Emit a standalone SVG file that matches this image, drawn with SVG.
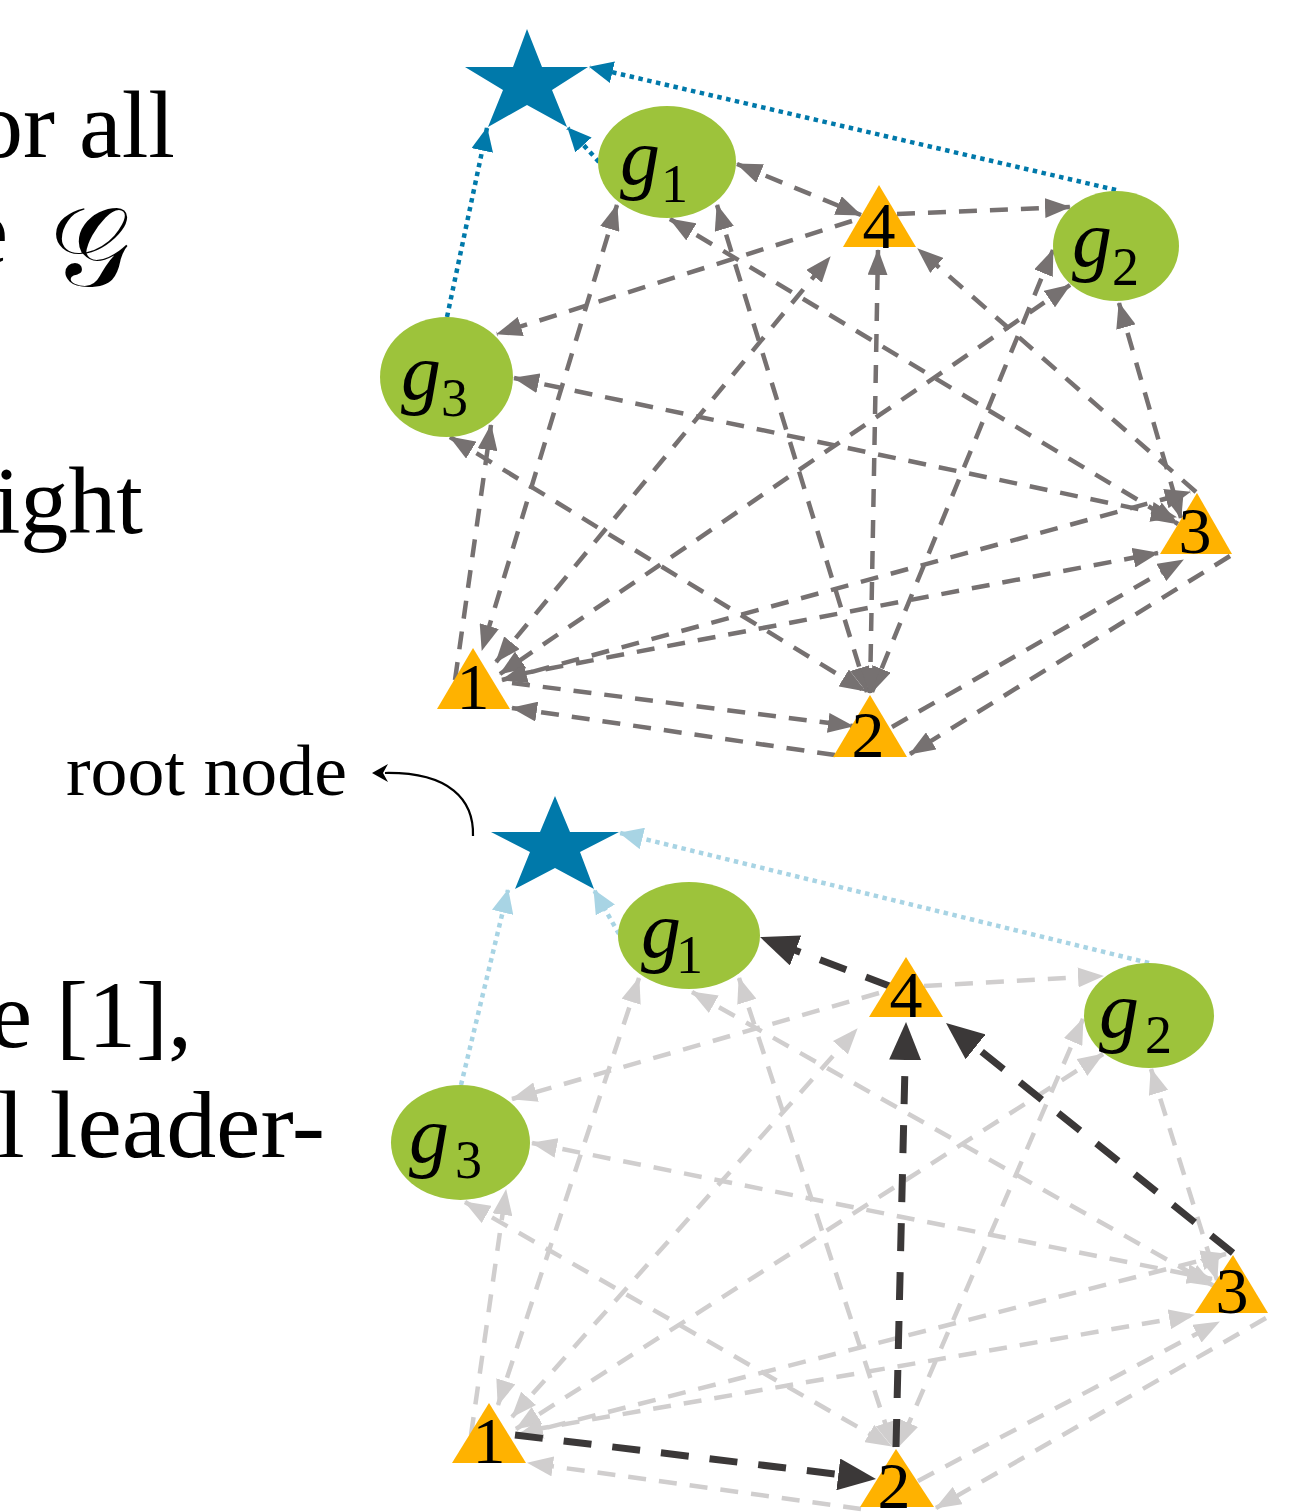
<svg xmlns="http://www.w3.org/2000/svg" width="1300" height="1512" viewBox="0 0 1300 1512">
  <defs>
    <style>
      .e{fill:none;stroke:#767171;stroke-width:4.5;stroke-dasharray:18 13;marker-end:url(#mg)}
      .e.two{marker-start:url(#mg)}
      .l{fill:none;stroke:#D0CECE;stroke-width:4.5;stroke-dasharray:18 13;marker-end:url(#ml)}
      .l.two{marker-start:url(#ml)}
      .d{fill:none;stroke:#3B3838;stroke-width:7;stroke-dasharray:28 21;marker-end:url(#md)}
      .b{fill:none;stroke:#0079AA;stroke-width:4.5;stroke-dasharray:4.5 4.5;marker-end:url(#mb)}
      .bl{fill:none;stroke:#A8D4E4;stroke-width:4.5;stroke-dasharray:4.5 4.5;marker-end:url(#mbl)}
      .goal{fill:#9DC33B}
      .agent{fill:#FFB200}
      .star{fill:#0079AA}
      .num{font-family:"Liberation Serif",serif;font-size:66px;fill:#000;text-anchor:middle}
      .gv{font-family:"Liberation Serif",serif;font-style:italic;font-size:80px;fill:#000}
      .gs{font-family:"Liberation Serif",serif;font-size:54px;fill:#000}
      .txt{font-family:"Liberation Serif",serif;font-size:96px;fill:#000}
    </style>
    <marker id="mg" viewBox="0 0 26 20" refX="25" refY="10" markerWidth="26" markerHeight="20" markerUnits="userSpaceOnUse" orient="auto-start-reverse"><path d="M0,0 L26,10 L0,20 z" fill="#767171"/></marker>
    <marker id="ml" viewBox="0 0 26 20" refX="25" refY="10" markerWidth="26" markerHeight="20" markerUnits="userSpaceOnUse" orient="auto-start-reverse"><path d="M0,0 L26,10 L0,20 z" fill="#D0CECE"/></marker>
    <marker id="md" viewBox="0 0 38 32" refX="28" refY="16" markerWidth="38" markerHeight="32" markerUnits="userSpaceOnUse" orient="auto"><path d="M0,0 L38,16 L0,32 z" fill="#3B3838"/></marker>
    <marker id="mb" viewBox="0 0 24 22" refX="23" refY="11" markerWidth="24" markerHeight="22" markerUnits="userSpaceOnUse" orient="auto"><path d="M0,0 L24,11 L0,22 z" fill="#0079AA"/></marker>
    <marker id="mbl" viewBox="0 0 24 22" refX="23" refY="11" markerWidth="24" markerHeight="22" markerUnits="userSpaceOnUse" orient="auto"><path d="M0,0 L24,11 L0,22 z" fill="#A8D4E4"/></marker>
  </defs>

  <rect width="1300" height="1512" fill="#fff"/>

  <!-- side text, cut at the left edge -->
  <g id="side-text">
    <text class="txt" x="175" y="157" text-anchor="end">or all</text>
    <text class="txt" x="8" y="263" text-anchor="end">e</text>
    <text x="50" y="286" font-family="DejaVu Serif,'DejaVu Sans','Noto Sans',serif" font-size="112">𝒢</text>
    <text class="txt" x="143" y="533" text-anchor="end" font-size="86">eight</text>
    <text class="txt" x="192" y="1047" text-anchor="end">e [1],</text>
    <text class="txt" x="-3" y="1157" font-size="98" textLength="328" lengthAdjust="spacingAndGlyphs">l leader-</text>
  </g>

  <!-- root node callout -->
  <g id="root-label">
    <text x="66" y="795" font-family="'Liberation Serif',serif" font-size="72" textLength="281" lengthAdjust="spacingAndGlyphs">root node</text>
    <path d="M473,836 C474,800 450,772 385,773" fill="none" stroke="#000" stroke-width="2.2"/>
    <polygon points="372,773 388,764 383,773 388,782" fill="#000"/>
  </g>

  <!-- connectors -->
  <g id="connectors">
    <!-- full graph -->
    <path class="e two" d="M737,164 L861,215"/>
    <path class="e" d="M897,214 L1070,207"/>
    <path class="e" d="M852,221 L497,334"/>
    <path class="e two" d="M617,205 L482,650"/>
    <path class="e two" d="M717,205 L867,692"/>
    <path class="e two" d="M670,219 L1178,524"/>
    <path class="e two" d="M1070,285 L500,674"/>
    <path class="e two" d="M1053,250 L872,692"/>
    <path class="e two" d="M1119,303 L1181,518"/>
    <path class="e" d="M455,680 L491,425"/>
    <path class="e two" d="M450,437 L865,691"/>
    <path class="e two" d="M514,378 L1176,517"/>
    <path class="e" d="M512,683 L853,726"/>
    <path class="e" d="M835,755 L512,708"/>
    <path class="e" d="M892,727 L1183,560"/>
    <path class="e" d="M1230,556 L910,754"/>
    <path class="e" d="M515,675 L1158,553"/>
    <path class="e two" d="M502,680 L1190,492"/>
    <path class="e two" d="M496,662 L830,257"/>
    <path class="e two" d="M870,693 L878,250"/>
    <path class="e" d="M1196,492 L918,249"/>
    <path class="b" d="M447,317 L487,128"/>
    <path class="b" d="M599,162 L568,128"/>
    <path class="b" d="M1116,190 L590,67"/>

    <!-- spanning tree view: faded graph -->
    <path class="l" d="M924,986 L1103,976"/>
    <path class="l" d="M879,993 L512,1099"/>
    <path class="l two" d="M639,978 L498,1405"/>
    <path class="l two" d="M739,978 L893,1447"/>
    <path class="l two" d="M692,992 L1214,1286"/>
    <path class="l two" d="M1103,1054 L516,1429"/>
    <path class="l two" d="M1083,1019 L899,1446"/>
    <path class="l" d="M471,1435 L506,1190"/>
    <path class="l two" d="M1151,1069 L1217,1280"/>
    <path class="l two" d="M465,1202 L891,1446"/>
    <path class="l two" d="M532,1143 L1212,1279"/>
    <path class="l" d="M861,1509 L528,1463"/>
    <path class="l" d="M918,1481 L1219,1322"/>
    <path class="l" d="M1266,1318 L936,1508"/>
    <path class="l" d="M531,1430 L1194,1315"/>
    <path class="l two" d="M518,1435 L1226,1254"/>
    <path class="l two" d="M512,1417 L857,1029"/>
    <path class="bl" d="M461,1085 L508,890"/>
    <path class="bl" d="M619,934 L594,890"/>
    <path class="bl" d="M1149,963 L620,833"/>
    <!-- highlighted tree edges -->
    <path class="d" d="M892,987 L769.4,940.6"/>
    <path class="d" d="M515,1435 L866.1,1477.8"/>
    <path class="d" d="M896,1447 L905.8,1032"/>
    <path class="d" d="M1233,1253 L953.8,1029.3"/>
  </g>

  <!-- full graph nodes -->
  <g id="top-root"><polygon class="star" points="527,29 542,67 588,67 552,90 567,127 527,105 488,127 503,90 465,67 513,67"/></g>
  <g id="top-g1"><ellipse class="goal" cx="667" cy="162" rx="69" ry="56"/><text class="gv" x="620" y="184">g</text><text class="gs" x="661" y="202">1</text></g>
  <g id="top-g2"><ellipse class="goal" cx="1116" cy="246" rx="63" ry="55"/><text class="gv" x="1072" y="266">g</text><text class="gs" x="1112" y="285">2</text></g>
  <g id="top-g3"><ellipse class="goal" cx="446.5" cy="377" rx="66.5" ry="60"/><text class="gv" x="401" y="399">g</text><text class="gs" x="441" y="416">3</text></g>
  <g id="top-a1"><polygon class="agent" points="473,648 510,709 437,709"/><text class="num" x="473" y="709">1</text></g>
  <g id="top-a2"><polygon class="agent" points="870,695 907,757 833,757"/><text class="num" x="868" y="757">2</text></g>
  <g id="top-a3"><polygon class="agent" points="1197,493 1232,554 1160,554"/><text class="num" x="1195" y="553">3</text></g>
  <g id="top-a4"><polygon class="agent" points="879,185 916,247 843,247"/><text class="num" x="879" y="248">4</text></g>

  <!-- spanning tree view nodes -->
  <g id="bot-root"><polygon class="star" points="555,796 570,832 619,832 580,852 594,889 555,868 515,889 530,852 491,832 540,832"/></g>
  <g id="bot-g1"><ellipse class="goal" cx="689" cy="935.5" rx="71" ry="53.5"/><text class="gv" x="641" y="957">g</text><text class="gs" x="676" y="973">1</text></g>
  <g id="bot-g2"><ellipse class="goal" cx="1149" cy="1015.5" rx="65" ry="52.5"/><text class="gv" x="1099" y="1037">g</text><text class="gs" x="1145" y="1053">2</text></g>
  <g id="bot-g3"><ellipse class="goal" cx="460.5" cy="1142.5" rx="69.5" ry="57.5"/><text class="gv" x="409" y="1162">g</text><text class="gs" x="455" y="1178">3</text></g>
  <g id="bot-a1"><polygon class="agent" points="489,1403 526,1463 452,1463"/><text class="num" x="489" y="1463">1</text></g>
  <g id="bot-a2"><polygon class="agent" points="896,1449 934,1507 860,1507"/><text class="num" x="894" y="1508">2</text></g>
  <g id="bot-a3"><polygon class="agent" points="1233,1255 1268,1313 1195,1313"/><text class="num" x="1232" y="1313">3</text></g>
  <g id="bot-a4"><polygon class="agent" points="906,957 943,1017 869,1017"/><text class="num" x="906" y="1017">4</text></g>
</svg>
